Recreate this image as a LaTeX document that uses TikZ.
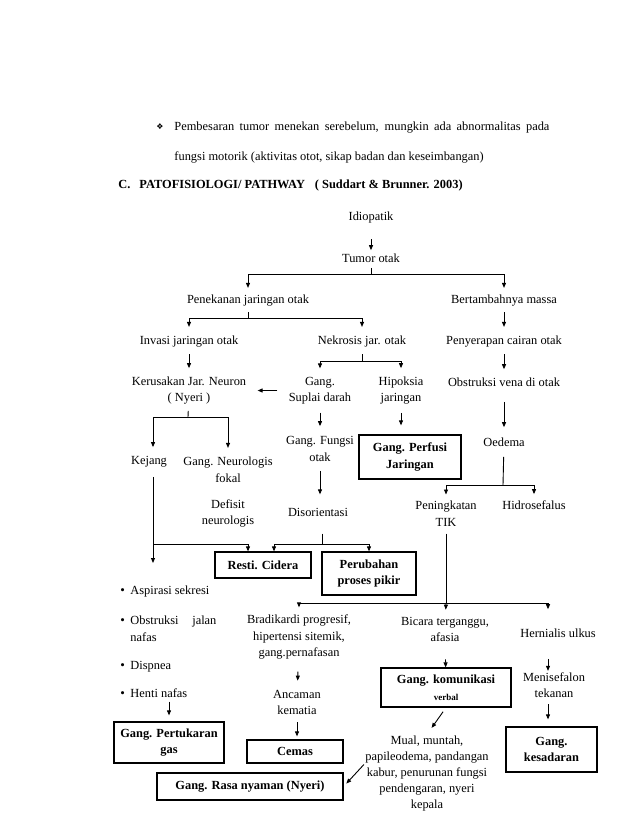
\documentclass[tikz,border=0pt]{standalone}
\usepackage{fontspec}
\setmainfont{Liberation Serif}
\newfontfamily\symfont{DejaVu Sans}
\usetikzlibrary{arrows.meta, positioning}

\newcommand{\dotitem}{\makebox[10pt][l]{\fontsize{13}{13}\selectfont •}}

\begin{document}
\begin{tikzpicture}[x=1pt, y=-1pt, line width=0.9pt,
    >={Triangle[length=5pt, width=4pt]},
    every node/.style={font=\fontsize{12.4}{16.5}\selectfont, inner sep=1pt, align=center},
    bold/.style={font=\fontsize{12.4}{16.5}\selectfont\bfseries},
    box/.style={draw, line width=1.2pt, inner sep=0pt, bold},
    item/.style={anchor=base west, align=left}]
    \useasboundingbox (0,0) rectangle (638,826);

    % Intro text
    \node (diamond) at (160,127) {\symfont\fontsize{8}{8}\selectfont ❖};
    \node[anchor=west] (line1) at (173,128) {\makebox[375pt][s]{Pembesaran tumor menekan serebelum, mungkin ada abnormalitas pada}};
    \node[anchor=west] (line2) at (173,157) {fungsi motorik (aktivitas otot, sikap badan dan keseimbangan)};
    \node[anchor=west, bold] (judul) at (117,186) {C.\hspace{9pt}PATOFISIOLOGI/ PATHWAY\hspace{10pt}( Suddart \& Brunner. 2003)};

    % Nodes
    \node (idiopatik) at (371,218) {Idiopatik};
    \node (tumor) at (371,258) {Tumor otak};
    \node (penekanan) at (248,301) {Penekanan jaringan otak};
    \node (massa) at (504,301) {Bertambahnya massa};
    \node (invasi) at (189,342) {Invasi jaringan otak};
    \node (nekrosis) at (362,342) {Nekrosis jar. otak};
    \node (penyerapan) at (504,342) {Penyerapan cairan otak};
    \node (kerusakan) at (189,390.5) {Kerusakan Jar. Neuron\\( Nyeri )};
    \node (suplai) at (320,390.5) {Gang.\\Suplai darah};
    \node (hipoksia) at (401,390.5) {Hipoksia\\jaringan};
    \node (obstruksi) at (504,382) {Obstruksi vena di otak};
    \node (fungsi) at (320,449) {Gang. Fungsi\\otak};
    \node[box, minimum width=102pt, minimum height=44pt] (perfusi) at (410,457) {Gang. Perfusi\\Jaringan};
    \node (oedema) at (504,442) {Oedema};
    \node (kejang) at (149,462) {Kejang};
    \node (neurologis) at (228,470) {Gang. Neurologis\\fokal};
    \node (defisit) at (228,513.5) {Defisit\\neurologis};
    \node (disorientasi) at (318,512) {Disorientasi};
    \node (tik) at (446,513.5) {Peningkatan\\TIK};
    \node (hidrosefalus) at (534,505) {Hidrosefalus};
    \node[box, minimum width=96pt, minimum height=26pt] (resti) at (263,565) {Resti. Cidera};
    \node[box, minimum width=94pt, minimum height=43pt] (perubahan) at (369,573.5) {Perubahan\\proses pikir};

    % Bullet list
    \node[item] (aspirasi) at (119,594) {\dotitem Aspirasi sekresi};
    \node[item] (jalan) at (119,641) {\dotitem\makebox[86pt][s]{Obstruksi jalan}\\\hspace*{10pt}nafas};
    \node[item] (dispnea) at (119,669) {\dotitem Dispnea};
    \node[item] (henti) at (119,697) {\dotitem Henti nafas};

    \node (bradikardi) at (299,637) {Bradikardi progresif,\\hipertensi sitemik,\\gang.pernafasan};
    \node (bicara) at (445,629.5) {Bicara terganggu,\\afasia};
    \node (hernialis) at (558,633) {Hernialis ulkus};
    \node (ancaman) at (297,702.5) {Ancaman\\kematia};
    \node[box, minimum width=130pt, minimum height=39pt] (komunikasi) at (446,687.5) {Gang. komunikasi\\{\fontsize{9}{9}\selectfont verbal}};
    \node (menisefalon) at (554,685) {Menisefalon\\tekanan};
    \node[box, minimum width=110pt, minimum height=41pt] (pertukaran) at (169,742.5) {Gang. Pertukaran\\gas};
    \node[box, minimum width=96pt, minimum height=23pt] (cemas) at (295,751.5) {Cemas};
    \node[font=\fontsize{12.4}{16}\selectfont] (mual) at (427,773.5) {Mual, muntah,\\papileodema, pandangan\\kabur, penurunan fungsi\\pendengaran, nyeri\\kepala};
    \node[box, minimum width=186pt, minimum height=27pt] (nyaman) at (250,786.5) {Gang. Rasa nyaman (Nyeri)};
    \node[box, minimum width=91pt, minimum height=45pt] (kesadaran) at (551.5,749.5) {Gang.\\kesadaran};

    % Branch points
    \coordinate (jtumor) at (371,274);
    \coordinate (jpenekanan) at (248,318);
    \coordinate (jnekrosis) at (362,361);
    \coordinate (jkerusakan) at (188,417);
    \coordinate (joedema) at (503,485);
    \coordinate (jkejang) at (153,544);
    \coordinate (jlist) at (153,563);
    \coordinate (jdisorientasi) at (322,544);
    \coordinate (jtik) at (446,603);
    \coordinate (colR) at (548,603);

    % Edges
    \draw[->, shorten <=14pt, shorten >=2pt] (idiopatik) -- (tumor);
    \draw[shorten <=4pt] (tumor) -- (jtumor);
    \draw[->, shorten >=6pt] (jtumor) -| (penekanan);
    \draw[->, shorten >=6pt] (jtumor) -| (massa);
    \draw[shorten <=4pt] (penekanan) -- (jpenekanan);
    \draw[->, shorten >=8pt] (jpenekanan) -| (invasi);
    \draw[->, shorten >=8pt] (jpenekanan) -| (nekrosis);
    \draw[->, shorten <=4pt, shorten >=8pt] (massa) -- (penyerapan);
    \draw[->, shorten <=5pt, shorten >=7pt] (invasi) -- (kerusakan);
    \draw[shorten <=5pt] (nekrosis) -- (jnekrosis);
    \draw[->, shorten >=7pt] (jnekrosis) -| (suplai);
    \draw[->, shorten >=7pt] (jnekrosis) -| (hipoksia);
    \draw[->, shorten <=5pt, shorten >=7pt] (penyerapan) -- (obstruksi);
    \draw[->, shorten <=10pt, shorten >=10pt] (suplai) -- (kerusakan);
    \draw[shorten <=5pt] (kerusakan) -- (jkerusakan);
    \draw[->, shorten >=8pt] (jkerusakan) -| (kejang.north -| jkejang);
    \draw[->, shorten >=8pt] (jkerusakan) -| (neurologis);
    \draw[->, shorten <=7pt, shorten >=9pt] (suplai) -- (fungsi);
    \draw[->, shorten <=7pt, shorten >=9pt] (hipoksia) -- (hipoksia |- perfusi.north);
    \draw[->, shorten <=14pt, shorten >=9pt] (obstruksi) -- (oedema);
    \draw[shorten <=9pt] (oedema) -- (joedema);
    \draw[->, shorten >=5pt] (joedema) -| (tik);
    \draw[->, shorten >=5pt] (joedema) -| (hidrosefalus);
    \draw[->, shorten <=8pt, shorten >=12pt] (fungsi) -- (fungsi |- disorientasi.north);
    \draw[->, shorten <=8pt] (kejang.south -| jlist) -- (jlist);
    \draw[->] (jkejang) -| ([xshift=-15pt]resti.north);
    \draw[shorten <=16pt] (disorientasi.south -| jdisorientasi) -- (jdisorientasi);
    \draw[->] (jdisorientasi) -| ([xshift=11pt]resti.north);
    \draw[->] (jdisorientasi) -| (perubahan);
    \draw[shorten <=6pt] (tik) -- (jtik);
    \draw[->, shorten >=6pt] (jtik) -| (bradikardi);
    \draw[->, shorten >=6pt] (jtik) -- (bicara);
    \draw[->, shorten >=18pt] (jtik) -| (colR |- hernialis.north);
    \draw[->, shorten <=11pt, shorten >=8pt] (bradikardi) -- (ancaman);
    \draw[->, shorten <=16pt] (bicara) -- (komunikasi);
    \draw[->, shorten <=20pt] (hernialis.south -| colR) -- (menisefalon.north -| colR);
    \draw[->, shorten <=5pt, shorten >=7pt] (menisefalon.south -| colR) -- (kesadaran.north -| colR);
    \draw[->, shorten <=6pt, shorten >=3pt] (ancaman) -- (ancaman |- cemas.north);
    \draw[->, shorten <=3pt, shorten >=6pt] (henti.south -| pertukaran) -- (pertukaran);
    \draw[->, shorten <=5pt, shorten >=8pt] (komunikasi.south) -- (mual.north);
    \draw[->, shorten >=4pt] ([yshift=9pt]mual.west) -- (nyaman.east);
\end{tikzpicture}
\end{document}
